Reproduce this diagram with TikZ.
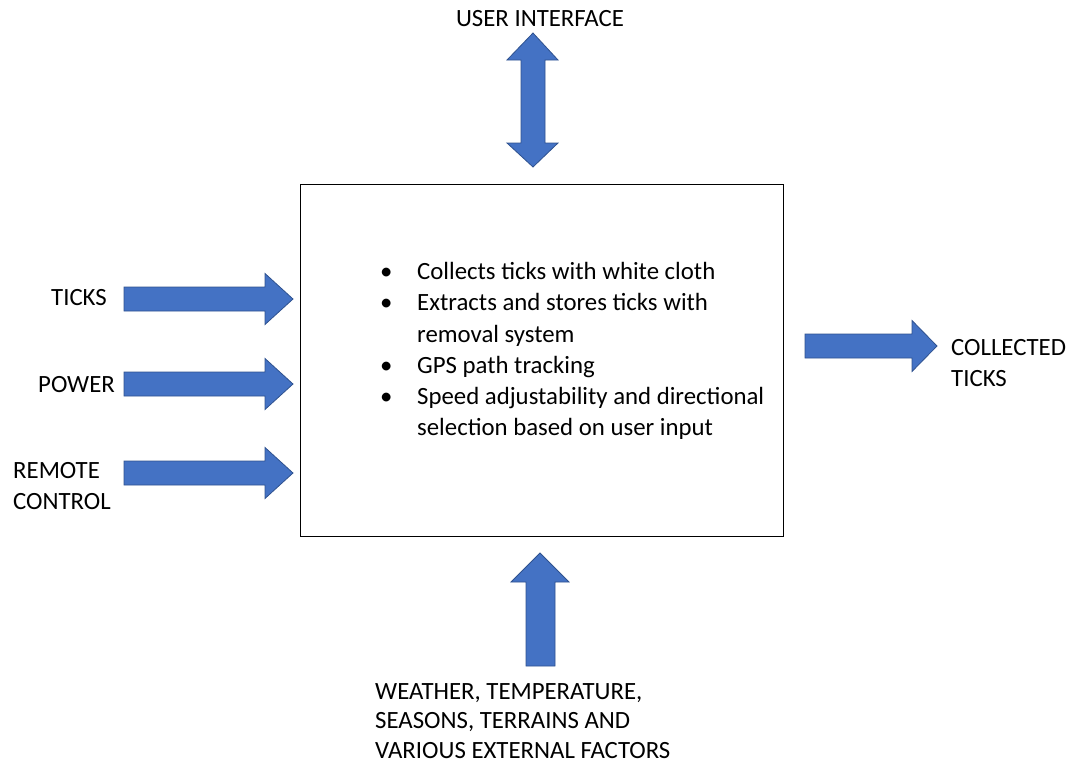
\documentclass[tikz,border=0pt]{standalone}
\usepackage{fontspec}
\setmainfont{Carlito}
\definecolor{arrowfill}{HTML}{4472C4}
\definecolor{arrowline}{HTML}{2F528F}
\tikzset{
  blk/.style={fill=arrowfill, draw=arrowline, line width=0.8pt, line join=miter},
  lbl/.style={inner sep=0pt, font=\fontsize{24.8}{31.2}\selectfont, text=black, align=left},
  sysbox/.style={draw=black, line width=1.4pt, fill=white}
}
% horizontal block arrow: tail x, head base x, tip x, centre y
\newcommand\harrow[4]{%
  \draw[blk] (#1,#4-12) -- (#2,#4-12) -- (#2,#4-25.5) -- (#3,#4)
    -- (#2,#4+25.5) -- (#2,#4+12) -- (#1,#4+12) -- cycle;}
\begin{document}
\begin{tikzpicture}[x=1pt,y=-1pt]
\useasboundingbox (0,0) rectangle (1072,763);

% central system block
\node[sysbox, minimum width=483pt, minimum height=352pt, anchor=north west] (sys) at (300,184) {};
\node[lbl, anchor=west] (func) at (380,351.5) {%
  \begin{tabular}{@{}l@{}l@{}}
  \makebox[37pt][l]{\textbullet} & Collects ticks with white cloth\\
  \makebox[37pt][l]{\textbullet} & Extracts and stores ticks with\\
  & removal system\\
  \makebox[37pt][l]{\textbullet} & GPS path tracking\\
  \makebox[37pt][l]{\textbullet} & Speed adjustability and directional\\
  & selection based on user input
  \end{tabular}};

% user interface: two-way arrow above the block
\node[lbl, anchor=center] (ui) at (540,19) {USER INTERFACE};
\draw[blk] (533,33) -- (558,60) -- (545,60) -- (545,143) -- (558,143) -- (533,167)
  -- (507,143) -- (521,143) -- (521,60) -- (507,60) -- cycle;

% inputs from the left
\node[lbl, anchor=east] (ticks) at (107,298) {TICKS};
\harrow{124}{265}{293}{299}
\node[lbl, anchor=east] (power) at (115,385) {POWER};
\harrow{124}{265}{293}{384}
\node[lbl, anchor=west] (remote) at (13,486) {REMOTE\\CONTROL};
\harrow{124}{265}{293}{473}

% output to the right
\harrow{805}{912}{937}{346}
\node[lbl, anchor=west] (out) at (951,363) {COLLECTED\\TICKS};

% environment arrow from below
\draw[blk] (540,553) -- (569,582) -- (555,582) -- (555,666) -- (526,666) -- (526,582)
  -- (511,582) -- cycle;
\node[lbl, anchor=west, font=\fontsize{24.8}{29.5}\selectfont] (env) at (375,721)
  {WEATHER, TEMPERATURE,\\SEASONS, TERRAINS AND\\VARIOUS EXTERNAL FACTORS};
\end{tikzpicture}
\end{document}
